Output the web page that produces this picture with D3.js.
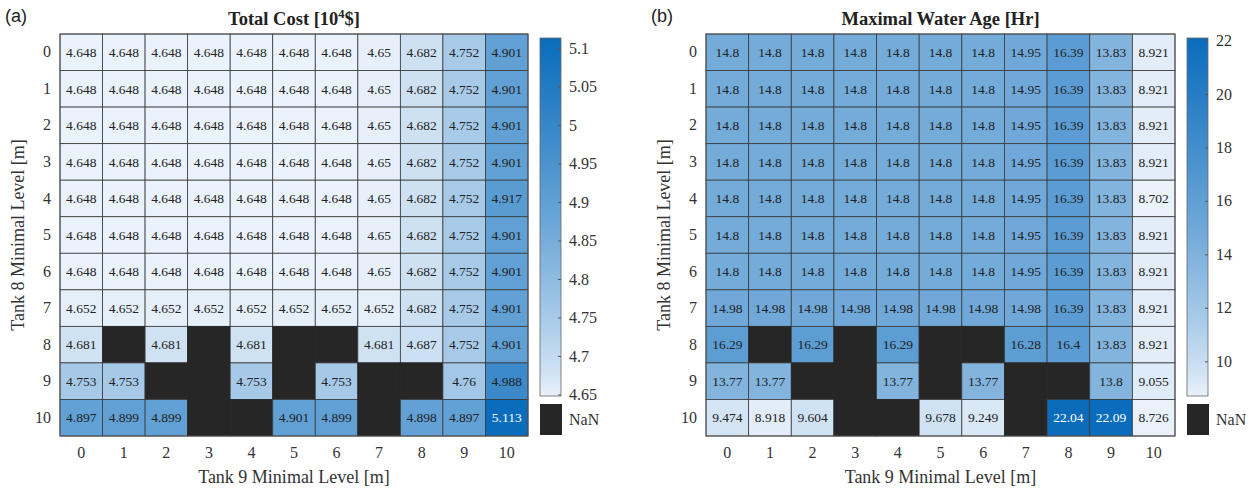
<!DOCTYPE html>
<html><head><meta charset="utf-8">
<script src="https://cdn.jsdelivr.net/npm/d3@7"></script>
<style>body{margin:0;background:#fff}svg{display:block}</style>
</head><body>
<svg id="c" width="1255" height="492"></svg>
<script>
const levels = ["0","1","2","3","4","5","6","7","8","9","10"];
const N = null;
const costValues = [
 [4.648,4.648,4.648,4.648,4.648,4.648,4.648,4.65,4.682,4.752,4.901],
 [4.648,4.648,4.648,4.648,4.648,4.648,4.648,4.65,4.682,4.752,4.901],
 [4.648,4.648,4.648,4.648,4.648,4.648,4.648,4.65,4.682,4.752,4.901],
 [4.648,4.648,4.648,4.648,4.648,4.648,4.648,4.65,4.682,4.752,4.901],
 [4.648,4.648,4.648,4.648,4.648,4.648,4.648,4.65,4.682,4.752,4.917],
 [4.648,4.648,4.648,4.648,4.648,4.648,4.648,4.65,4.682,4.752,4.901],
 [4.648,4.648,4.648,4.648,4.648,4.648,4.648,4.65,4.682,4.752,4.901],
 [4.652,4.652,4.652,4.652,4.652,4.652,4.652,4.652,4.682,4.752,4.901],
 [4.681,N,4.681,N,4.681,N,N,4.681,4.687,4.752,4.901],
 [4.753,4.753,N,N,4.753,N,4.753,N,N,4.76,4.988],
 [4.897,4.899,4.899,N,N,4.901,4.899,N,4.898,4.897,5.113]
];
const ageValues = [
 [14.8,14.8,14.8,14.8,14.8,14.8,14.8,14.95,16.39,13.83,8.921],
 [14.8,14.8,14.8,14.8,14.8,14.8,14.8,14.95,16.39,13.83,8.921],
 [14.8,14.8,14.8,14.8,14.8,14.8,14.8,14.95,16.39,13.83,8.921],
 [14.8,14.8,14.8,14.8,14.8,14.8,14.8,14.95,16.39,13.83,8.921],
 [14.8,14.8,14.8,14.8,14.8,14.8,14.8,14.95,16.39,13.83,8.702],
 [14.8,14.8,14.8,14.8,14.8,14.8,14.8,14.95,16.39,13.83,8.921],
 [14.8,14.8,14.8,14.8,14.8,14.8,14.8,14.95,16.39,13.83,8.921],
 [14.98,14.98,14.98,14.98,14.98,14.98,14.98,14.98,16.39,13.83,8.921],
 [16.29,N,16.29,N,16.29,N,N,16.28,16.4,13.83,8.921],
 [13.77,13.77,N,N,13.77,N,13.77,N,N,13.8,9.055],
 [9.474,8.918,9.604,N,N,9.678,9.249,N,22.04,22.09,8.726]
];
const costTicks = [4.65,4.7,4.75,4.8,4.85,4.9,4.95,5,5.05,5.1];
const ageTicks = [10,12,14,16,18,20,22];
const costRange = [4.648, 5.113];
const ageRange = [8.702, 22.09];

const svg = d3.select("#c");
const serif = "'Liberation Serif','Times New Roman',serif";
const lowC = "#eaf2fb", highC = "#0a6cbc";
const gammaExp = 0.8;

function panel(opt){
  const g = svg.append("g");
  const x = d3.scaleBand().domain(levels).range([opt.x0, opt.x1]);
  const y = d3.scaleBand().domain(levels).range([opt.y0, opt.y1]);
  const frac = d3.scaleLinear().domain(opt.range).range([0,1]).clamp(true);
  const ramp = d3.scalePow().exponent(gammaExp).domain([0,1]).range([lowC, highC]).interpolate(d3.interpolateRgb);
  const col = v => ramp(frac(v));
  const cells = [];
  opt.data.forEach((row,i)=>row.forEach((v,j)=>cells.push({r:levels[i],c:levels[j],v})));
  g.selectAll("rect.cell").data(cells).join("rect").attr("class","cell")
    .attr("x",d=>x(d.c)).attr("y",d=>y(d.r)).attr("width",x.bandwidth()).attr("height",y.bandwidth())
    .attr("fill",d=>d.v===null?"#262626":col(d.v))
    .attr("stroke",d=>d.v===null?"#262626":"#3a3a3a").attr("stroke-width",0.8);
  g.selectAll("text.val").data(cells.filter(d=>d.v!==null)).join("text").attr("class","val")
    .attr("x",d=>x(d.c)+x.bandwidth()/2).attr("y",d=>y(d.r)+y.bandwidth()/2)
    .attr("dy","0.35em").attr("text-anchor","middle")
    .attr("font-family",serif).attr("font-size",13.5)
    .attr("fill",d=>frac(d.v)>0.85?"#fff":"#222")
    .text(d=>String(d.v));
  g.append("rect").attr("x",opt.x0).attr("y",opt.y0).attr("width",opt.x1-opt.x0).attr("height",opt.y1-opt.y0)
    .attr("fill","none").attr("stroke","#555").attr("stroke-width",1);
  // axes
  const xa = g.append("g").attr("transform",`translate(0,${opt.y1})`).call(d3.axisBottom(x).tickSize(0).tickPadding(11));
  const ya = g.append("g").attr("transform",`translate(${opt.x0},0)`).call(d3.axisLeft(y).tickSize(0).tickPadding(9));
  [xa,ya].forEach(a=>{a.select(".domain").remove();a.selectAll("text").attr("font-family",serif).attr("font-size",16).attr("fill","#333");});
  g.append("text").attr("x",(opt.x0+opt.x1)/2).attr("y",opt.y1+47).attr("text-anchor","middle")
    .attr("font-family",serif).attr("font-size",18).attr("fill","#333").text("Tank 9 Minimal Level [m]");
  g.append("text").attr("transform",`translate(${opt.x0-36},${(opt.y0+opt.y1)/2}) rotate(-90)`).attr("text-anchor","middle")
    .attr("font-family",serif).attr("font-size",18).attr("fill","#333").text("Tank 8 Minimal Level [m]");
  // title
  const t = g.append("text").attr("x",(opt.x0+opt.x1)/2).attr("y",opt.y0-9).attr("text-anchor","middle")
    .attr("font-family",serif).attr("font-size",18.5).attr("font-weight","bold").attr("fill","#222");
  opt.title(t);
  g.append("text").attr("x",opt.tx).attr("y",22).attr("font-family","'Liberation Sans',Arial,sans-serif")
    .attr("font-size",18).attr("fill","#222").text(opt.tag);
  // colorbar
  const cb = opt.cb;
  const cy = d3.scaleLinear().domain(opt.range).range([cb.y1, cb.y0]);
  const gid = "grad"+opt.tag.replace(/\W/g,"");
  const grad = svg.append("defs").append("linearGradient").attr("id",gid).attr("x1",0).attr("y1",1).attr("x2",0).attr("y2",0);
  d3.range(0,1.0001,0.05).forEach(s=>grad.append("stop").attr("offset",s).attr("stop-color",ramp(s)));
  g.append("rect").attr("x",cb.x).attr("y",cb.y0).attr("width",cb.w).attr("height",cb.y1-cb.y0)
    .attr("fill",`url(#${gid})`).attr("stroke","#666").attr("stroke-width",0.8);
  const ca = g.append("g").attr("transform",`translate(${cb.x+cb.w},0)`)
    .call(d3.axisRight(cy).tickValues(opt.ticks).tickSize(-3).tickPadding(8).tickFormat(d=>String(d)));
  ca.select(".domain").remove();
  ca.selectAll("line").attr("stroke","#555");
  ca.selectAll("text").attr("font-family",serif).attr("font-size",16).attr("fill","#333");
  g.append("rect").attr("x",cb.x).attr("y",cb.ny).attr("width",cb.w+1).attr("height",cb.nh).attr("fill","#262626");
  g.append("text").attr("x",cb.x+cb.w+8).attr("y",cb.ny+cb.nh/2).attr("dy","0.35em")
    .attr("font-family",serif).attr("font-size",16).attr("fill","#333").text("NaN");
}

panel({tag:"(a)", tx:5, data:costValues, range:costRange, ticks:costTicks,
  x0:60, x1:528, y0:34, y1:436,
  cb:{x:540, w:21, y0:38, y1:396, ny:404, nh:31},
  title:t=>{t.append("tspan").text("Total Cost [10");
            t.append("tspan").attr("font-size",12.5).attr("dy",-7).text("4");
            t.append("tspan").attr("dy",7).text("$]");}
});
panel({tag:"(b)", tx:651, data:ageValues, range:ageRange, ticks:ageTicks,
  x0:706, x1:1175, y0:34, y1:436,
  cb:{x:1187, w:21, y0:38, y1:396, ny:404, nh:31},
  title:t=>t.text("Maximal Water Age [Hr]")
});
</script>
</body></html>
